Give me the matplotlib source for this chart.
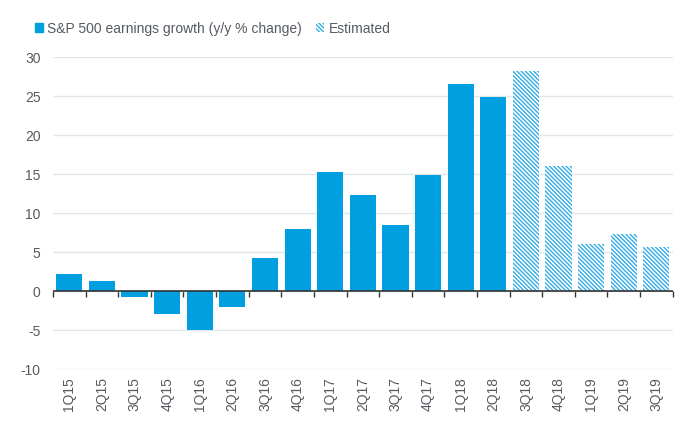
import matplotlib
matplotlib.use("Agg")
import matplotlib.pyplot as plt
from matplotlib.patches import Patch
import numpy as np

quarters = ["1Q15", "2Q15", "3Q15", "4Q15", "1Q16", "2Q16", "3Q16", "4Q16", "1Q17", "2Q17",
            "3Q17", "4Q17", "1Q18", "2Q18", "3Q18", "4Q18", "1Q19", "2Q19", "3Q19"]
growth = [2.2, 1.3, -0.8, -2.9, -5.0, -2.1, 4.2, 7.9, 15.3, 12.3,
          8.5, 14.9, 26.5, 24.9, 28.2, 16.0, 6.0, 7.3, 5.6]
estimated = [False] * 14 + [True] * 5

BLUE = "#009fdf"
HATCH_BLUE = "#36ace3"
GREY = "#555b60"
HATCH = "\\\\\\\\\\\\\\\\"
plt.rcParams["font.family"] = ["Liberation Sans", "DejaVu Sans"]
plt.rcParams["hatch.linewidth"] = 1.0
plt.rcParams["axes.unicode_minus"] = False

fig = plt.figure(figsize=(7, 4.21), dpi=100)
ax = fig.add_axes([0.0757, 0.1235, 0.8853, 0.7411])
x = np.arange(len(quarters))
for i, (v, est) in enumerate(zip(growth, estimated)):
    if est:
        ax.bar(i, v, width=0.8, facecolor="white", edgecolor=HATCH_BLUE, linewidth=0,
               hatch=HATCH, zorder=2)
    else:
        ax.bar(i, v, width=0.8, color=BLUE, linewidth=0, zorder=2)

ax.set_xlim(-0.5, len(quarters) - 0.5)
ax.set_ylim(-10, 30)
ax.set_yticks(range(-10, 31, 5))
ax.yaxis.grid(True, color="#e3e6e8", linewidth=1)
ax.set_axisbelow(True)
ax.axhline(0, color="#333333", linewidth=1.2, zorder=3)
for s in ax.spines.values():
    s.set_visible(False)
ax.tick_params(axis="y", length=0, labelsize=10, labelcolor=GREY, pad=9)
ax.set_xticks(x)
ax.set_xticklabels(quarters, rotation=90, fontsize=10, color=GREY)
ax.tick_params(axis="x", which="major", length=0, pad=6)

# tick marks between quarters on the zero line
zero = ax.secondary_xaxis((0 - (-10)) / 40)
zero.set_xticks(np.arange(-0.5, len(quarters), 1))
zero.tick_params(axis="x", length=4, color="#333333", width=1, labelbottom=False)
zero.spines["bottom"].set_visible(False)

handles = [Patch(facecolor=BLUE, edgecolor=BLUE, label="S&P 500 earnings growth (y/y % change)"),
           Patch(facecolor="white", edgecolor=HATCH_BLUE, linewidth=0, hatch=HATCH, label="Estimated")]
fig.legend(handles=handles, loc="upper left", bbox_to_anchor=(0.032, 0.978), ncol=2, frameon=False,
           fontsize=10, labelcolor=GREY, handlelength=0.6, handleheight=0.6, handletextpad=0.3,
           columnspacing=1.0)

fig.savefig("out.png", dpi=100)
